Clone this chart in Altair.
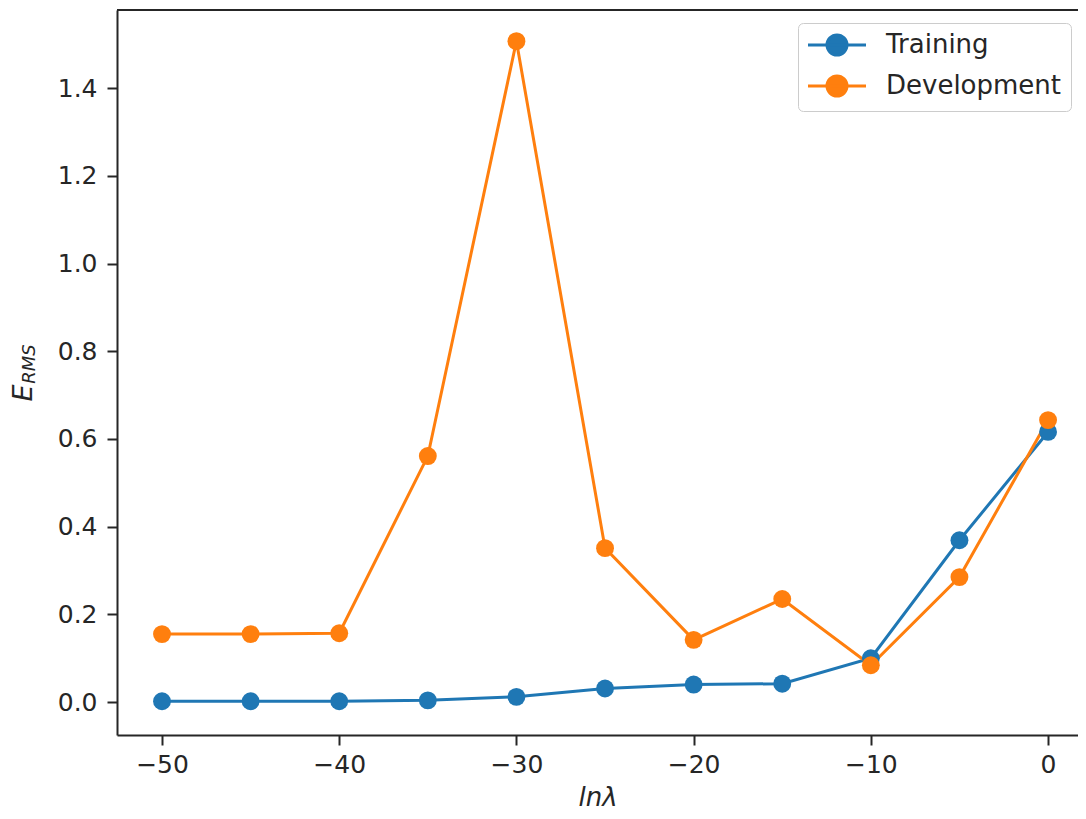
import altair as alt
import pandas as pd

# ---- data ----
ln_lambda = [-50, -45, -40, -35, -30, -25, -20, -15, -10, -5, 0]
training = [0.002, 0.002, 0.002, 0.004, 0.012, 0.031, 0.040, 0.042, 0.100, 0.369, 0.616]
development = [0.155, 0.155, 0.157, 0.561, 1.507, 0.351, 0.142, 0.235, 0.084, 0.285, 0.643]
series_names = ["Training", "Development"]
series_colors = ["#1f77b4", "#ff7f0e"]
x_ticks = [-50, -40, -30, -20, -10, 0]
y_ticks = [0.0, 0.2, 0.4, 0.6, 0.8, 1.0, 1.2, 1.4]

rows = []
for name, vals in zip(series_names, [training, development]):
    for x, v in zip(ln_lambda, vals):
        rows.append({"lnlam": x, "erms": v, "series": name})
df = pd.DataFrame(rows)

W, H = 961, 725
FONT = "DejaVu Sans"
INK = "#262626"

# legend glyph: a short line with a dot in the middle (units of half the symbol side)
legend_symbol = ("M-2.9,0H2.9M-1,0A1,1,0,1,0,1,0"
                 "A1,1,0,1,0,-1,0Z")

lines = alt.Chart(df).mark_line(
    strokeWidth=3,
    point=alt.OverlayMarkDef(size=320, filled=True, opacity=1),
).encode(
    x=alt.X("lnlam:Q",
            scale=alt.Scale(domain=[-52.54, 1.69], nice=False, zero=False),
            axis=alt.Axis(values=x_ticks, format="d", title="lnλ",
                          titleFontStyle="italic", titleFontSize=26,
                          titleFontWeight="normal", titlePadding=7)),
    y=alt.Y("erms:Q",
            scale=alt.Scale(domain=[-0.075, 1.578], nice=False, zero=False),
            axis=alt.Axis(values=y_ticks, format=".1f", title=None)),
    color=alt.Color("series:N",
                    scale=alt.Scale(domain=series_names, range=series_colors),
                    sort=series_names,
                    legend=alt.Legend(
                        title=None, orient="none", legendX=681, legendY=13,
                        symbolType=legend_symbol, symbolSize=400,
                        symbolOffset=17,
                        symbolStrokeWidth=3, labelFontSize=26,
                        labelFont=FONT, labelColor=INK, labelOffset=36,
                        labelLimit=400,
                        padding=9, fillColor="white", strokeColor="#cccccc",
                        cornerRadius=5, rowPadding=9, symbolOpacity=1)),
    order="lnlam:Q",
)

frame_df = pd.DataFrame({"k": [0]})
top_spine = alt.Chart(frame_df).mark_rule(color=INK, strokeWidth=2).encode(
    x=alt.value(0), x2=alt.value(W), y=alt.value(0)
)

ytitle_df = pd.DataFrame({"t": ["E"], "s": ["RMS"]})
y_title_main = alt.Chart(ytitle_df).mark_text(
    angle=270, font=FONT, fontStyle="italic", fontSize=27, color=INK,
    align="center", baseline="middle"
).encode(text="t:N", x=alt.value(-93), y=alt.value(383))
y_title_sub = alt.Chart(ytitle_df).mark_text(
    angle=270, font=FONT, fontStyle="italic", fontSize=18, color=INK,
    align="center", baseline="middle"
).encode(text="s:N", x=alt.value(-87), y=alt.value(354))

chart = alt.layer(lines, top_spine, y_title_main, y_title_sub).properties(
    width=W, height=H,
    autosize="none",
    padding={"left": 109, "top": 2, "right": 0, "bottom": 76},
    background="white",
).configure_view(stroke=None).configure_axis(
    grid=False, domainColor=INK, domainWidth=2, tickColor=INK, tickWidth=2,
    tickSize=10, labelFontSize=25, labelFont=FONT, labelColor=INK,
    titleFont=FONT, titleColor=INK, labelPadding=7,
).configure_axisY(labelPadding=10)

chart.save("out.html", embed_options={"renderer": "svg", "actions": False})
